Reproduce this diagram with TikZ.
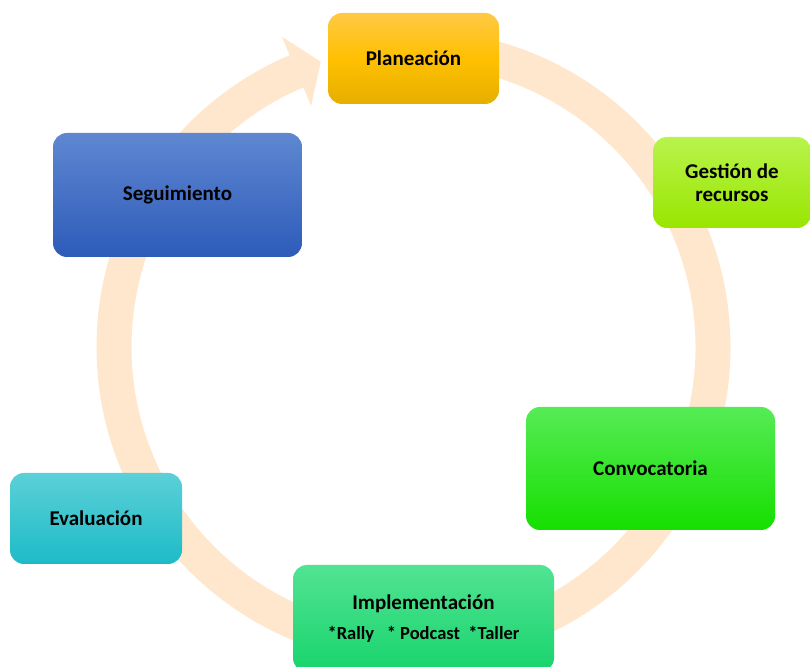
\documentclass[tikz,border=0pt]{standalone}
\usepackage{fontspec}
\setmainfont{Carlito}
\usetikzlibrary{calc}
\definecolor{ring}{HTML}{FFE7CD}
\definecolor{planT}{HTML}{FFC945}
\definecolor{planM}{HTML}{FFC000}
\definecolor{planB}{HTML}{E5AF00}
\definecolor{gestT}{HTML}{B9F34C}
\definecolor{gestB}{HTML}{98E600}
\definecolor{convT}{HTML}{56EB56}
\definecolor{convB}{HTML}{16DF00}
\definecolor{implT}{HTML}{52E393}
\definecolor{implB}{HTML}{18D46C}
\definecolor{evalT}{HTML}{5BD0D8}
\definecolor{evalB}{HTML}{1DBBC7}
\definecolor{seguT}{HTML}{5F87D1}
\definecolor{seguB}{HTML}{2D5BB9}
\tikzset{
  box/.style={rounded corners=14pt, font=\bfseries\fontsize{21}{23.5}\selectfont, text=black, align=center, inner sep=0pt},
  plan/.style={box, top color=planT, bottom color=planB, middle color=planM},
  gest/.style={box, top color=gestT, bottom color=gestB},
  conv/.style={box, top color=convT, bottom color=convB},
  impl/.style={box, top color=implT, bottom color=implB},
  eval/.style={box, top color=evalT, bottom color=evalB},
  segu/.style={box, top color=seguT, bottom color=seguB},
}
\begin{document}
\begin{tikzpicture}[x=1pt,y=1pt]
\useasboundingbox (0,0) rectangle (810,666);
\clip (0,0) rectangle (810,666);
\fill[white] (0,0) rectangle (810,666);
\coordinate (c) at (413.5,319);
% ring arrow
\draw[ring, line width=35pt] ($(c)+(95:299.5)$) arc[start angle=95, end angle=-247, radius=299.5];
\fill[ring, shift={(c)}] (113:262) -- (108:300) -- (113:337) -- cycle;
% boxes
\node[plan, minimum width=171pt, minimum height=91pt] (p) at (413.5,607.5) {Planeación};
\node[gest, minimum width=158pt, minimum height=91pt] (g) at (732,483.5) {Gestión de\\recursos};
\node[conv, minimum width=249pt, minimum height=123pt] (cv) at (650.5,197.5) {Convocatoria};
\node[impl, minimum width=261pt, minimum height=107pt] (im) at (423.5,47.5) {Implementación\\[7pt]{\fontsize{18.5}{20}\selectfont *Rally\ \ \ * Podcast\ \ *Taller}};
\node[eval, minimum width=172pt, minimum height=91pt] (ev) at (96,147.5) {Evaluación};
\node[segu, minimum width=249pt, minimum height=124pt] (sg) at (177.5,471) {Seguimiento};
\end{tikzpicture}
\end{document}
